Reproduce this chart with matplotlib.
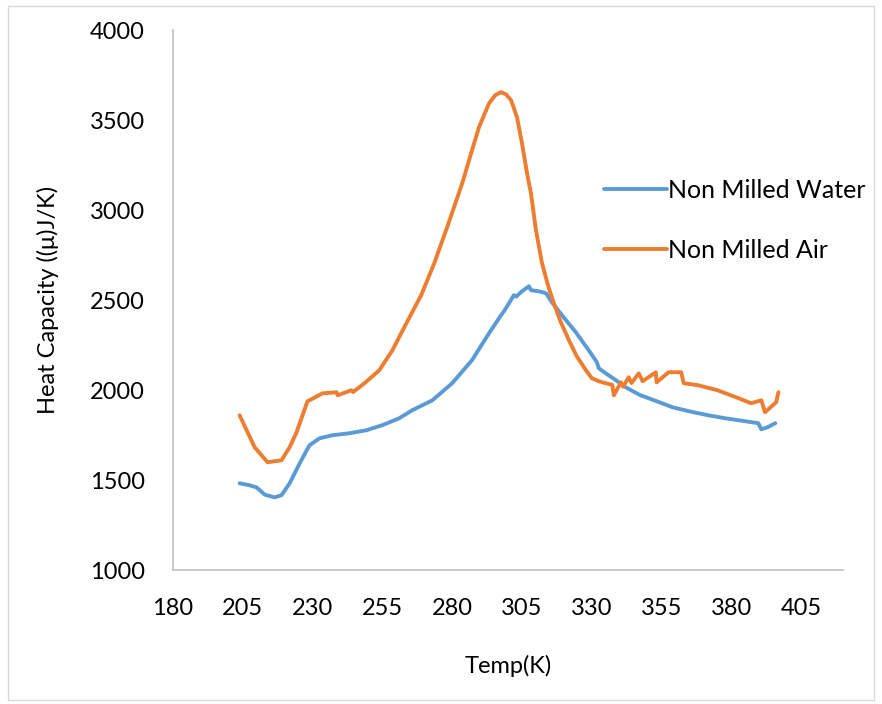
import matplotlib
matplotlib.use("Agg")
import matplotlib.pyplot as plt
from matplotlib.patches import Rectangle

# Non milled sample measured in water
water_t = [203.9, 207.5, 210.0, 212.9, 216.4, 218.9, 221.8, 225.4, 228.9, 232.5, 237.1,
           243.2, 249.3, 255.0, 261.0, 265.7, 272.9, 280.0, 287.1, 293.2, 297.5,
           298.6, 302.1, 302.9, 305.0, 307.5, 308.2, 311.0, 313.6, 315.7, 319.3,
           324.3, 328.9, 331.8, 332.5, 335.0, 338.6, 342.1, 347.0, 353.9, 359.0,
           365.7, 372.0, 377.9, 384.0, 389.6, 390.7, 393.0, 395.7]
water_cp = [1483, 1472, 1460, 1420, 1405, 1417, 1483, 1594, 1694, 1733, 1750,
            1761, 1778, 1806, 1844, 1889, 1944, 2039, 2167, 2317, 2417,
            2440, 2528, 2520, 2550, 2578, 2556, 2550, 2539, 2489, 2417,
            2322, 2222, 2156, 2122, 2094, 2056, 2017, 1975, 1935, 1905,
            1880, 1860, 1844, 1830, 1817, 1783, 1795, 1817]

# Non milled sample measured in air
air_t = [203.9, 206.4, 209.3, 213.9, 218.9, 221.8, 224.3, 228.2, 228.9, 233.6, 238.6,
         239.0, 243.9, 244.5, 248.6, 253.9, 258.6, 263.6, 268.9, 273.6, 278.2,
         283.6, 287.1, 289.6, 293.2, 295.4, 297.5, 299.3, 301.1, 303.2, 305.0,
         306.8, 308.2, 310.0, 312.1, 314.3, 316.4, 318.9, 321.8, 324.6, 327.9,
         330.0, 332.5, 335.0, 337.3, 337.9, 340.4, 341.2, 343.2, 344.2, 346.8,
         348.2, 352.9, 353.2, 357.5, 362.0, 362.9, 368.0, 375.0, 382.5, 387.0,
         390.7, 392.0, 396.0, 396.8]
air_cp = [1861, 1778, 1683, 1600, 1611, 1683, 1767, 1939, 1944, 1983, 1989,
          1972, 2000, 1990, 2039, 2111, 2222, 2372, 2528, 2706, 2906,
          3150, 3333, 3461, 3594, 3639, 3656, 3644, 3611, 3517, 3372,
          3206, 3094, 2889, 2711, 2583, 2483, 2378, 2278, 2189, 2111,
          2067, 2050, 2039, 2030, 1972, 2044, 2020, 2072, 2040, 2094,
          2050, 2100, 2044, 2100, 2100, 2039, 2028, 2000, 1956, 1928,
          1944, 1878, 1933, 1989]

series_names = ["Non Milled Water", "Non Milled Air"]
x_ticks = list(range(180, 406, 25))
y_ticks = list(range(1000, 4001, 500))

plt.rcParams["font.family"] = ["Lato", "DejaVu Sans"]

fig = plt.figure(figsize=(8.82, 7.04), dpi=100)
ax = fig.add_axes([0.196, 0.19, 0.76, 0.767])

ax.plot(water_t, water_cp, color="#5B9BD5", lw=2.8, label=series_names[0],
        solid_joinstyle="round", solid_capstyle="round")
ax.plot(air_t, air_cp, color="#ED7D31", lw=2.8, label=series_names[1],
        solid_joinstyle="round", solid_capstyle="round")

ax.set_xlim(180, 420)
ax.set_ylim(1000, 4000)
ax.set_xticks(x_ticks)
ax.set_yticks(y_ticks)
ax.tick_params(length=0, labelsize=17)
ax.tick_params(axis="x", pad=20)
ax.tick_params(axis="y", pad=20)
for side in ["top", "right"]:
    ax.spines[side].set_visible(False)
for side in ["left", "bottom"]:
    ax.spines[side].set_color("#BFBFBF")
    ax.spines[side].set_linewidth(1.2)

ax.set_xlabel("Temp(K)", fontsize=17, labelpad=26)
ax.set_ylabel("Heat Capacity ((\u03bc)J/K)", fontsize=17, labelpad=22)

ax.legend(loc="center left", bbox_to_anchor=(0.61, 0.648), frameon=False,
          fontsize=18, handlelength=2.5, handletextpad=0.05,
          labelspacing=1.5)

# light chart-area border
fig.patches.append(Rectangle((0.009, 0.005), 0.982, 0.987, transform=fig.transFigure,
                             fill=False, edgecolor="#D9D9D9", lw=1.0))

fig.savefig("out.png", dpi=100)
